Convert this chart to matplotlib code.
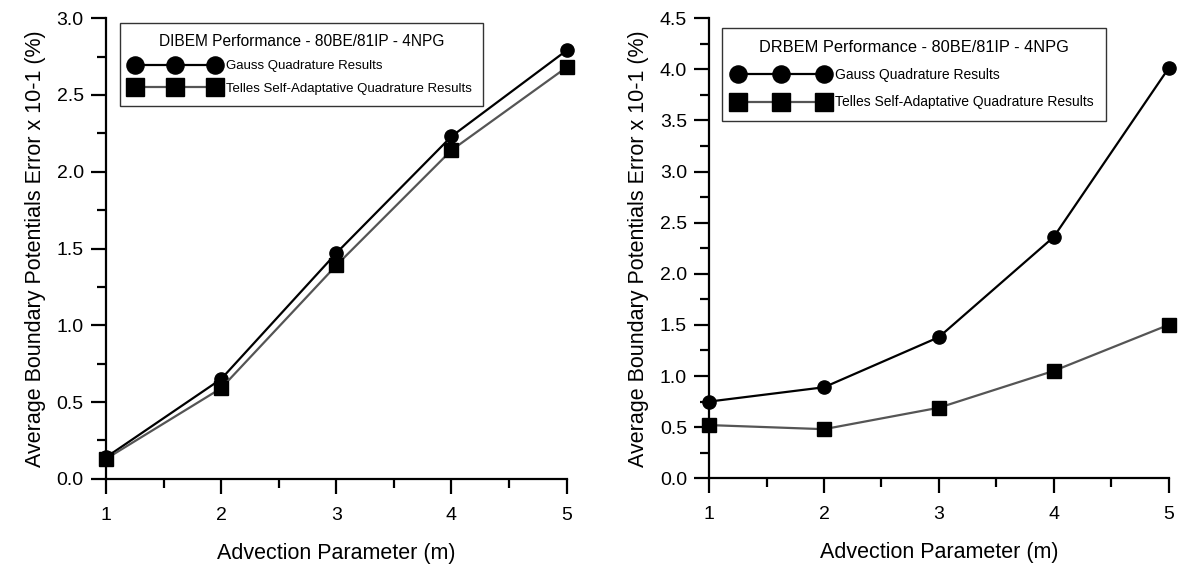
import matplotlib
matplotlib.use("Agg")
import matplotlib.pyplot as plt
from matplotlib.ticker import MultipleLocator

plt.rcParams['font.family'] = ['Liberation Sans', 'DejaVu Sans']

advection = [1, 2, 3, 4, 5]

# left panel (DIBEM)
dibem_gauss = [0.14, 0.65, 1.47, 2.23, 2.79]
dibem_telles = [0.13, 0.59, 1.39, 2.14, 2.68]

# right panel (DRBEM)
drbem_gauss = [0.75, 0.89, 1.38, 2.36, 4.01]
drbem_telles = [0.52, 0.48, 0.69, 1.05, 1.50]

fig = plt.figure(figsize=(11.78, 5.68), dpi=100)
ax1 = fig.add_axes([0.090, 0.157, 0.391, 0.811])
ax2 = fig.add_axes([0.602, 0.158, 0.390, 0.810])


def style_axes(ax, ymax, title, g, t, anchor, fs, tfs, hl, lsp, bpad):
    ax.plot(advection, g, color='black', lw=1.6, marker='o', ms=9.5,
            mfc='black', mec='black', label='Gauss Quadrature Results', clip_on=False)
    ax.plot(advection, t, color='#555555', lw=1.6, marker='s', ms=9.5,
            mfc='black', mec='black', label='Telles Self-Adaptative Quadrature Results',
            clip_on=False)
    ax.set_xlim(1, 5)
    ax.set_ylim(0, ymax)
    ax.xaxis.set_major_locator(MultipleLocator(1))
    ax.xaxis.set_minor_locator(MultipleLocator(0.5))
    ax.yaxis.set_major_locator(MultipleLocator(0.5))
    ax.yaxis.set_minor_locator(MultipleLocator(0.25))
    ax.yaxis.set_major_formatter(plt.FormatStrFormatter('%.1f'))
    for s in ['top', 'right']:
        ax.spines[s].set_visible(False)
    for s in ['left', 'bottom']:
        ax.spines[s].set_linewidth(1.6)
    ax.tick_params(which='major', length=11, width=1.6, labelsize=14)
    ax.tick_params(which='minor', length=6.5, width=1.6)
    ax.tick_params(axis='x', which='major', pad=9)
    ax.tick_params(axis='y', which='major', pad=5)
    ax.set_xlabel('Advection Parameter (m)', fontsize=15.5, labelpad=14)
    ax.set_ylabel('Average Boundary Potentials Error x 10-1 (%)', fontsize=15.5, labelpad=8)
    leg = ax.legend(loc='upper left', bbox_to_anchor=anchor, numpoints=3,
                    markerscale=1.3, handlelength=hl, handletextpad=0.5,
                    fontsize=fs, title=title, title_fontsize=tfs,
                    frameon=True, fancybox=False, borderpad=bpad,
                    labelspacing=lsp, borderaxespad=0)
    leg.get_frame().set_edgecolor('black')
    leg.get_frame().set_linewidth(1.0)


style_axes(ax1, 3.0, 'DIBEM Performance - 80BE/81IP - 4NPG', dibem_gauss, dibem_telles,
           (0.030, 0.989), 9.5, 11.2, 6.7, 0.8, 0.85)
style_axes(ax2, 4.5, 'DRBEM Performance - 80BE/81IP - 4NPG', drbem_gauss, drbem_telles,
           (0.028, 0.978), 10, 11.8, 6.8, 0.95, 0.85)

fig.savefig('out.png', dpi=100)
